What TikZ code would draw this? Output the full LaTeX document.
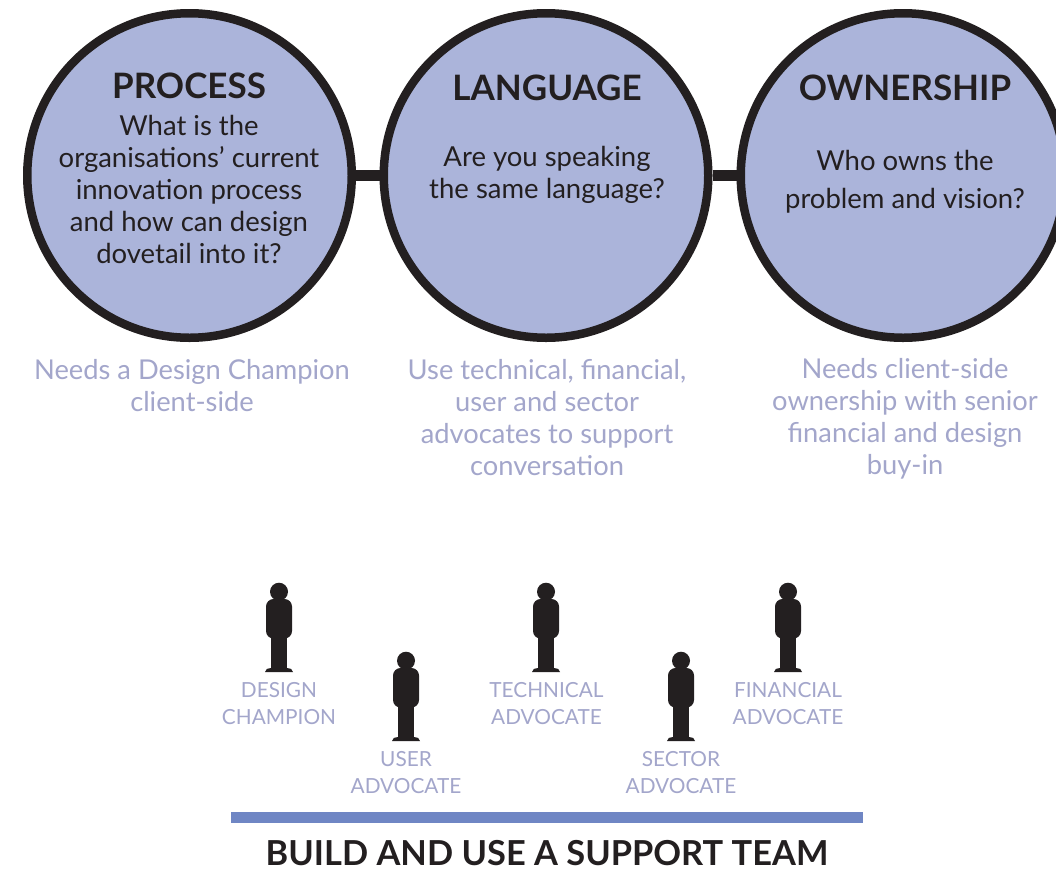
\documentclass[tikz,border=0pt]{standalone}
\usepackage{fontspec}
\setmainfont{Lato}
\definecolor{fillc}{HTML}{ABB4DA}
\definecolor{dark}{HTML}{231F20}
\definecolor{lav}{HTML}{A3A6CB}
\definecolor{barc}{HTML}{6F86C4}
\tikzset{
  x=1pt,y=-1pt,
  circ/.style={circle,draw=dark,line width=8.5pt,fill=fillc,minimum size=324.5pt,inner sep=0pt},
  link/.style={draw=dark,line width=10.5pt},
  head/.style={font=\fontsize{35}{40}\selectfont\bfseries,text=dark,inner sep=0pt,anchor=center},
  body/.style={font=\fontsize{27.5}{32}\selectfont,text=dark,align=center,inner sep=0pt,anchor=center},
  note/.style={font=\fontsize{27.3}{32}\selectfont,text=lav,align=center,inner sep=0pt,anchor=center},
  role/.style={font=\fontsize{20.8}{27}\selectfont,text=lav,align=center,inner sep=0pt,anchor=center},
  title/.style={font=\fontsize{34.4}{40}\selectfont\bfseries,text=dark,inner sep=0pt,anchor=center},
}
\newcommand{\person}[2]{%
  \fill[dark] (#1,#2-80.3) circle (9);
  \fill[dark,rounded corners=7.5pt] (#1-13,#2-73) rectangle (#1+13,#2-33.5);
  \fill[dark] (#1-8,#2-40) rectangle (#1+8,#2-2);
  \fill[dark] (#1-14,#2) .. controls (#1-14,#2-3) and (#1-11,#2-4) .. (#1-8,#2-4) -- (#1+8,#2-4) .. controls (#1+11,#2-4) and (#1+14,#2-3) .. (#1+14,#2) -- cycle;
}
\begin{document}
\begin{tikzpicture}
\useasboundingbox (0,0) rectangle (1056,871);
\fill[white] (0,0) rectangle (1056,871);
\coordinate (pc) at (189.5,175.5);
\coordinate (lc) at (546,175.5);
\coordinate (oc) at (903,175.5);
\node[circ] (p) at (pc) {};
\node[circ] (l) at (lc) {};
\node[circ] (o) at (oc) {};
\draw[link] (p.east) -- (l.west);
\draw[link] (l.east) -- (o.west);
\node[head] (h1) at (189,86) {PROCESS};
\node[head] (h2) at (547,88) {LANGUAGE};
\node[head] (h3) at (905,88) {OWNERSHIP};
\node[body] (b1) at (189,189.5) {What is the\\organisations’ current\\innovation process\\and how can design\\dovetail into it?};
\node[body] (b2) at (547,174.5) {Are you speaking\\the same language?};
\node[body,font=\fontsize{27.5}{38}\selectfont] (b3) at (905,182) {Who owns the\\problem and vision?};
\node[note] (n1) at (192,385.5) {Needs a Design Champion\\client-side};
\node[note] (n2) at (547,417.5) {Use technical, financial,\\user and sector\\advocates to support\\conversation};
\node[note] (n3) at (905,419) {Needs client-side\\ownership with senior\\financial and design\\buy-in};
\person{279}{672}
\person{406}{741}
\person{546}{672}
\person{681}{741}
\person{788}{672}
\node[role] (r1) at (279,703.5) {DESIGN\\CHAMPION};
\node[role] (r2) at (406,772.5) {USER\\ADVOCATE};
\node[role] (r3) at (546.5,703.5) {TECHNICAL\\ADVOCATE};
\node[role] (r4) at (681,772.5) {SECTOR\\ADVOCATE};
\node[role] (r5) at (788,703.5) {FINANCIAL\\ADVOCATE};
\fill[barc] (231,812) rectangle (863,823);
\node[title] (t) at (547,853.5) {BUILD AND USE A SUPPORT TEAM};
\end{tikzpicture}
\end{document}
